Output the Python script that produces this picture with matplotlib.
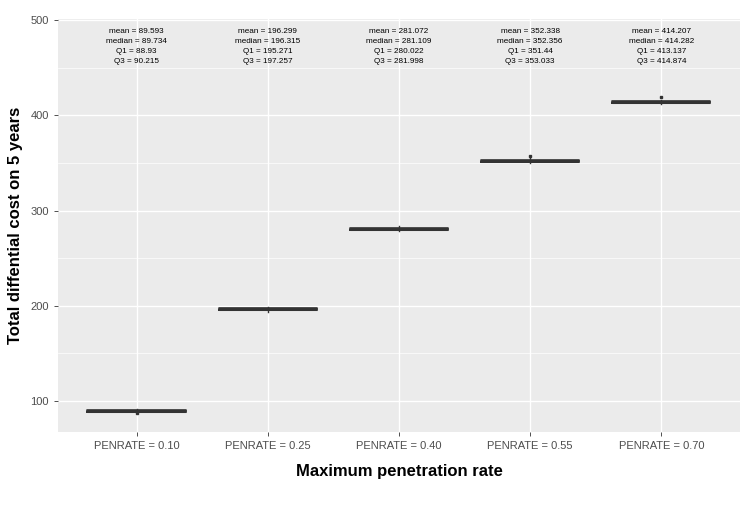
import matplotlib
matplotlib.use("Agg")
from matplotlib import pyplot as plt

plt.rcParams['font.family'] = ['Liberation Sans', 'DejaVu Sans']

labels = ['PENRATE = 0.10', 'PENRATE = 0.25', 'PENRATE = 0.40', 'PENRATE = 0.55', 'PENRATE = 0.70']
means = [89.593, 196.299, 281.072, 352.338, 414.207]
medians = [89.734, 196.315, 281.109, 352.356, 414.282]
q1 = [88.93, 195.271, 280.022, 351.44, 413.137]
q3 = [90.215, 197.257, 281.998, 353.033, 414.874]
whisk_lo = [87.5, 193.8, 278.6, 349.8, 411.6]
whisk_hi = [91.8, 198.8, 283.4, 354.8, 416.4]
fliers = [[87.3], [], [], [357.0], [419.0]]


def main():
    fig = plt.figure(figsize=(7.47, 5.14), dpi=100)
    ax = fig.add_axes([0.0776, 0.1595, 0.9130, 0.8035])
    ax.set_facecolor('#EBEBEB')

    stats = []
    for i in range(len(labels)):
        stats.append({'med': medians[i], 'q1': q1[i], 'q3': q3[i],
                      'whislo': whisk_lo[i], 'whishi': whisk_hi[i],
                      'fliers': fliers[i], 'label': labels[i]})

    pos = list(range(1, len(labels) + 1))
    ax.bxp(stats, positions=pos, widths=0.75, showfliers=True, showcaps=False,
           boxprops=dict(color='#333333', linewidth=1.2),
           medianprops=dict(color='#333333', linewidth=2.2),
           whiskerprops=dict(color='#333333', linewidth=1.0),
           flierprops=dict(marker='s', markersize=1.8, markerfacecolor='#333333',
                           markeredgecolor='#333333'),
           zorder=3)

    for i in range(len(labels)):
        txt = (f"mean = {means[i]}\nmedian = {medians[i]}\n"
               f"Q1 = {q1[i]}\nQ3 = {q3[i]}")
        ax.text(pos[i], 472.2, txt, ha='center', va='center', fontsize=5.9,
                linespacing=1.6, color='black', zorder=4)

    ax.set_xlim(0.4, 5.6)
    ax.set_ylim(67.45, 501.05)
    ax.set_yticks([100, 200, 300, 400, 500])
    ax.set_yticks([150, 250, 350, 450], minor=True)
    ax.set_xticks(pos)
    ax.set_xticklabels(labels)

    ax.grid(True, which='major', color='white', linewidth=1.0, zorder=0)
    ax.grid(True, which='minor', axis='y', color='white', linewidth=0.5, zorder=0)
    ax.set_axisbelow(True)
    for s in ax.spines.values():
        s.set_visible(False)
    ax.tick_params(axis='both', which='major', colors='#333333', labelcolor='#4D4D4D',
                   labelsize=8, length=3, width=0.6)
    ax.tick_params(axis='y', which='minor', length=0)

    ax.set_xlabel('Maximum penetration rate', fontsize=12, fontweight='bold', labelpad=9)
    ax.set_ylabel('Total diffential cost on 5 years', fontsize=12, fontweight='bold', labelpad=5)

    fig.savefig('out.png', dpi=100, facecolor='white')


if __name__ == "__main__":
    main()
